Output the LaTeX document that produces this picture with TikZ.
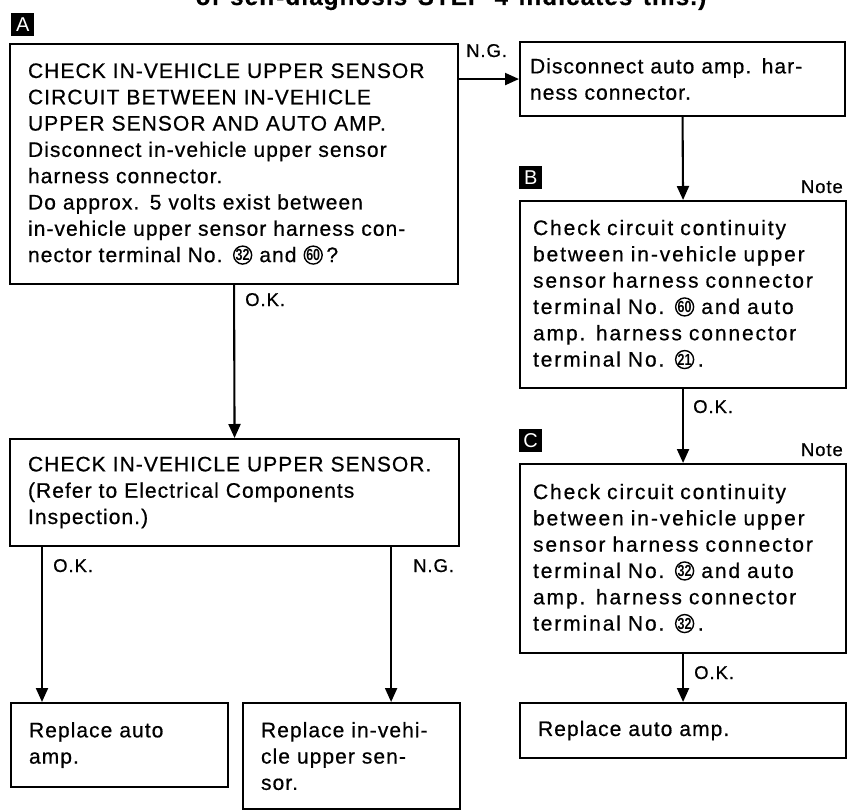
\documentclass[tikz,border=0pt]{standalone}
\usepackage{fontspec}
\setmainfont{Liberation Sans}
\newfontfamily\bodyfont[LetterSpace=5,WordSpace=1.35,FakeBold=0.6]{Liberation Sans}
\newfontfamily\widefont[LetterSpace=9,WordSpace=1.6,FakeBold=0.6]{Liberation Sans}
\newfontfamily\numfont[FakeStretch=0.78]{Liberation Sans}
\usetikzlibrary{arrows.meta}

% circled terminal number
\newcommand{\cnum}[1]{\tikz[baseline={([yshift=-7pt]n.center)}]\node[draw,circle,anchor=center,text width=,line width=1.4pt,inner sep=0pt,minimum size=18pt,font=\numfont\bfseries\fontsize{16}{16}\selectfont](n){#1};}

\begin{document}
\begin{tikzpicture}[x=1pt,y=-1pt,
  box/.style={draw,line width=2.1pt,anchor=north west,align=left,inner ysep=0pt,inner xsep=18pt,font=\bodyfont\fontsize{21}{26.3}\selectfont},
  wbox/.style={box,inner xsep=13pt,font=\widefont\fontsize{21}{26.3}\selectfont},
  lbl/.style={inner sep=0pt,font=\bodyfont\fontsize{18.5}{18.5}\selectfont},
  tag/.style={fill=black,text=white,anchor=north west,minimum size=23pt,inner sep=0pt,font=\fontsize{20}{20}\selectfont},
  arr/.style={line width=2.1pt,-{Triangle[length=14pt,width=12pt]}}]

  \useasboundingbox (0,0) rectangle (851,810);

  % heading (cut at the top)
  \node[anchor=base,inner sep=0pt,font=\bodyfont\bfseries\fontsize{24}{24}\selectfont] (head) at (451,5) {of self-diagnosis STEP 4 indicates this.)};

  % left column
  \node[tag] (tagA) at (11,13) {A};
  \node[box,text width=412pt,minimum height=240pt] (chk) at (9,43)
    {CHECK IN-VEHICLE UPPER SENSOR\\
     CIRCUIT BETWEEN IN-VEHICLE\\
     UPPER SENSOR AND AUTO AMP.\\
     Disconnect in-vehicle upper sensor\\
     harness connector.\\
     Do approx. 5 volts exist between\\
     in-vehicle upper sensor harness con-\\
     nector terminal No. \cnum{32} and \cnum{60}\,?};
  \node[box,text width=413pt,minimum height=107pt] (sens) at (9,438)
    {CHECK IN-VEHICLE UPPER SENSOR.\\
     (Refer to Electrical Components\\
     Inspection.)};
  \node[box,text width=181pt,minimum height=84pt] (repA) at (10,702)
    {Replace auto\\amp.};
  \node[box,text width=181pt,minimum height=106pt] (repS) at (242,702)
    {Replace in-vehi-\\cle upper sen-\\sor.};

  % right column
  \node[box,inner xsep=10pt,text width=305pt,minimum height=74pt] (dis) at (519,41)
    {Disconnect auto amp. har-\\ness connector.};
  \node[tag] (tagB) at (519,166) {B};
  \node[lbl,anchor=base east] (noteB) at (843,193) {Note};
  \node[wbox,text width=300pt,minimum height=187pt] (contB) at (519,200)
    {Check circuit continuity\\
     between in-vehicle upper\\
     sensor harness connector\\
     terminal No. \cnum{60} and auto\\
     amp. harness connector\\
     terminal No. \cnum{21}\,.};
  \node[tag] (tagC) at (519,429) {C};
  \node[lbl,anchor=base east] (noteC) at (843,456) {Note};
  \node[wbox,text width=300pt,minimum height=189pt] (contC) at (519,463)
    {Check circuit continuity\\
     between in-vehicle upper\\
     sensor harness connector\\
     terminal No. \cnum{32} and auto\\
     amp. harness connector\\
     terminal No. \cnum{32}\,.};
  \node[box,text width=290pt,minimum height=55pt] (amp) at (519,702)
    {Replace auto amp.};

  % arrows
  \draw[arr] (chk.east |- dis.west) -- (dis.west);
  \draw[arr] (dis.south) -- (contB.north);
  \draw[arr] (contB.south) -- (contC.north);
  \draw[arr] (contC.south) -- (amp.north);
  \draw[arr] (chk.south) -- (sens.north);
  \coordinate (okE) at ([xshift=33pt]sens.south west);
  \coordinate (ngS) at ([xshift=-69pt]sens.south east);
  \draw[arr] (okE) -- (okE |- repA.north);
  \draw[arr] (ngS) -- (ngS |- repS.north);

  % branch labels
  \node[lbl,anchor=base west] (ng1) at (466,57) {N.G.};
  \node[lbl,anchor=base west] (ok1) at (245,306) {O.K.};
  \node[lbl,anchor=base west] (ok2) at (693,413) {O.K.};
  \node[lbl,anchor=base west] (ok3) at (694,679) {O.K.};
  \node[lbl,anchor=base west] (ok4) at (53,572) {O.K.};
  \node[lbl,anchor=base west] (ng2) at (413,572) {N.G.};
\end{tikzpicture}
\end{document}
